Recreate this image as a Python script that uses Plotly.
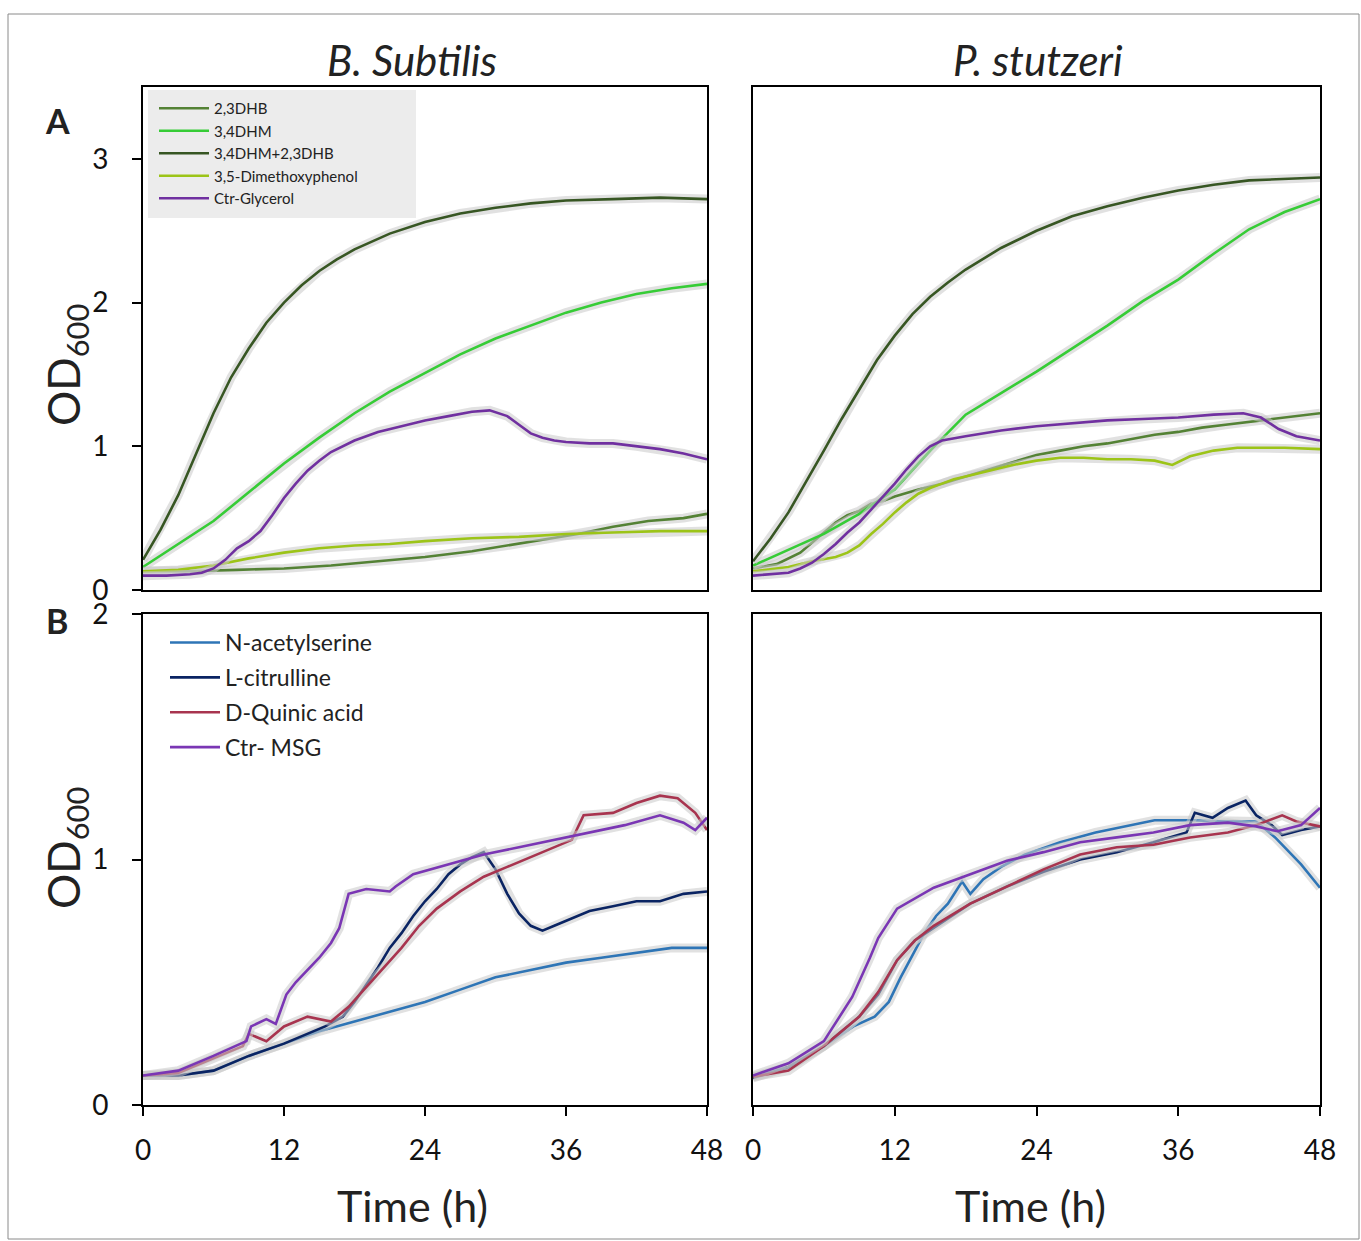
import plotly.graph_objects as go

W, H = 1361, 1241

# ---------------- Panel A : B. subtilis ----------------
t_dhb23_AL = [0, 4, 8, 12, 16, 20, 24, 28, 31, 34, 37, 40, 43, 46, 48]
v_dhb23_AL = [0.13, 0.13, 0.14, 0.15, 0.17, 0.20, 0.23, 0.27, 0.31, 0.35, 0.39, 0.44, 0.48, 0.50, 0.53]
t_dhm34_AL = [0, 3, 6, 9, 12, 15, 18, 21, 24, 27, 30, 33, 36, 39, 42, 45, 48]
v_dhm34_AL = [0.16, 0.32, 0.48, 0.68, 0.88, 1.06, 1.23, 1.38, 1.51, 1.64, 1.75, 1.84, 1.93, 2.00, 2.06, 2.10, 2.13]
t_combo_AL = [0, 1.5, 3, 4.5, 6, 7.5, 9, 10.5, 12, 13.5, 15, 16.5, 18, 21, 24, 27, 30, 33, 36, 40, 44, 48]
v_combo_AL = [0.21, 0.42, 0.66, 0.95, 1.23, 1.48, 1.68, 1.86, 2.00, 2.12, 2.22, 2.30, 2.37, 2.48, 2.56, 2.62, 2.66, 2.69, 2.71, 2.72, 2.73, 2.72]
t_dmp_AL = [0, 3, 6, 9, 12, 15, 18, 21, 24, 28, 32, 36, 40, 44, 48]
v_dmp_AL = [0.13, 0.14, 0.17, 0.22, 0.26, 0.29, 0.31, 0.32, 0.34, 0.36, 0.37, 0.39, 0.40, 0.41, 0.41]
t_gly_AL = [0, 2, 4, 5, 6, 7, 8, 9, 10, 11, 12, 13, 14, 15, 16, 18, 20, 22, 24, 26, 28, 29.5, 31, 32, 33, 34, 35, 36, 38, 40, 42, 44, 46, 48]
v_gly_AL = [0.10, 0.10, 0.11, 0.12, 0.15, 0.21, 0.29, 0.34, 0.41, 0.52, 0.64, 0.74, 0.83, 0.90, 0.96, 1.04, 1.10, 1.14, 1.18, 1.21, 1.24, 1.25, 1.21, 1.15, 1.09, 1.06, 1.04, 1.03, 1.02, 1.02, 1.00, 0.98, 0.95, 0.91]

# ---------------- Panel A : P. stutzeri ----------------
t_dhb23_AR = [0, 2, 4, 5, 6, 7, 8, 9, 10, 11, 12, 14, 16, 18, 20, 22, 24, 26, 28, 30, 32, 34, 36, 38, 40, 42, 44, 46, 48]
v_dhb23_AR = [0.15, 0.18, 0.26, 0.33, 0.40, 0.47, 0.52, 0.55, 0.60, 0.62, 0.65, 0.70, 0.74, 0.79, 0.84, 0.89, 0.94, 0.97, 1.00, 1.02, 1.05, 1.08, 1.10, 1.13, 1.15, 1.17, 1.19, 1.21, 1.23]
t_dhm34_AR = [0, 3, 6, 9, 12, 15, 18, 21, 24, 27, 30, 33, 36, 39, 42, 45, 48]
v_dhm34_AR = [0.17, 0.28, 0.39, 0.53, 0.70, 0.97, 1.22, 1.37, 1.52, 1.68, 1.84, 2.01, 2.16, 2.34, 2.51, 2.63, 2.72]
t_combo_AR = [0, 1.5, 3, 4.5, 6, 7.5, 9, 10.5, 12, 13.5, 15, 16.5, 18, 21, 24, 27, 30, 33, 36, 39, 42, 45, 48]
v_combo_AR = [0.20, 0.36, 0.54, 0.75, 0.97, 1.19, 1.40, 1.60, 1.77, 1.92, 2.04, 2.14, 2.23, 2.38, 2.50, 2.60, 2.67, 2.73, 2.78, 2.82, 2.85, 2.86, 2.87]
t_dmp_AR = [0, 3, 5, 7, 8, 9, 10, 11, 12, 13, 14, 15, 16, 17, 18, 20, 22, 24, 26, 28, 30, 32, 34, 35.5, 37, 39, 41, 43, 45, 48]
v_dmp_AR = [0.13, 0.16, 0.20, 0.23, 0.26, 0.31, 0.39, 0.46, 0.54, 0.61, 0.67, 0.71, 0.74, 0.77, 0.79, 0.83, 0.87, 0.90, 0.92, 0.92, 0.91, 0.91, 0.90, 0.87, 0.93, 0.97, 0.99, 0.99, 0.99, 0.98]
t_gly_AR = [0, 2, 3, 4, 5, 6, 7, 8, 9, 10, 11, 12, 13, 14, 15, 16, 18, 21, 24, 27, 30, 33, 36, 39, 41.5, 43, 44.5, 46, 48]
v_gly_AR = [0.10, 0.11, 0.12, 0.15, 0.19, 0.25, 0.32, 0.40, 0.47, 0.56, 0.65, 0.74, 0.84, 0.93, 1.00, 1.04, 1.07, 1.11, 1.14, 1.16, 1.18, 1.19, 1.20, 1.22, 1.23, 1.20, 1.12, 1.07, 1.04]

# ---------------- Panel B : B. subtilis ----------------
t_nas_BL = [0, 3, 6, 9, 12, 15, 18, 21, 24, 27, 30, 33, 36, 39, 42, 45, 48]
v_nas_BL = [0.12, 0.12, 0.14, 0.20, 0.25, 0.30, 0.34, 0.38, 0.42, 0.47, 0.52, 0.55, 0.58, 0.60, 0.62, 0.64, 0.64]
t_cit_BL = [0, 3, 6, 9, 12, 14, 15.5, 17, 18, 19, 20, 21, 22, 23, 24, 25, 26, 27, 28, 29, 30, 31, 32, 33, 34, 35, 36, 38, 40, 42, 44, 46, 48]
v_cit_BL = [0.12, 0.12, 0.14, 0.20, 0.25, 0.29, 0.32, 0.36, 0.42, 0.49, 0.56, 0.64, 0.70, 0.77, 0.83, 0.88, 0.94, 0.98, 1.01, 1.03, 0.96, 0.86, 0.78, 0.73, 0.71, 0.73, 0.75, 0.79, 0.81, 0.83, 0.83, 0.86, 0.87]
t_qui_BL = [0, 3, 6, 8.5, 9, 10.5, 12, 14, 16, 17.5, 19, 20.5, 22, 23.5, 25, 27, 29, 31, 33, 35, 36.5, 37.5, 40, 42, 44, 45.5, 47, 48]
v_qui_BL = [0.12, 0.13, 0.19, 0.24, 0.29, 0.26, 0.32, 0.36, 0.34, 0.40, 0.48, 0.56, 0.64, 0.73, 0.80, 0.87, 0.93, 0.97, 1.01, 1.05, 1.08, 1.18, 1.19, 1.23, 1.26, 1.25, 1.19, 1.12]
t_msg_BL = [0, 3, 6, 8.8, 9.2, 10.5, 11.3, 12.2, 13, 14, 15, 16, 16.7, 17.5, 19, 21, 21.5, 23, 26, 29, 32, 35, 38, 41, 44, 46, 47, 48]
v_msg_BL = [0.12, 0.14, 0.20, 0.26, 0.32, 0.35, 0.33, 0.45, 0.50, 0.55, 0.60, 0.66, 0.72, 0.86, 0.88, 0.87, 0.89, 0.94, 0.98, 1.02, 1.05, 1.08, 1.11, 1.14, 1.18, 1.15, 1.12, 1.17]

# ---------------- Panel B : P. stutzeri ----------------
t_nas_BR = [0, 3, 6, 8.5, 10.3, 11.5, 12.5, 13.5, 14.5, 15.5, 16.5, 17.7, 18.4, 19.5, 21, 23, 26, 29, 32, 34, 37, 40, 42.6, 44.2, 46.4, 48]
v_nas_BR = [0.115, 0.155, 0.24, 0.32, 0.36, 0.42, 0.52, 0.61, 0.70, 0.77, 0.82, 0.91, 0.86, 0.92, 0.97, 1.02, 1.07, 1.11, 1.14, 1.16, 1.16, 1.155, 1.155, 1.09, 0.98, 0.885]
t_cit_BR = [0, 3, 6, 9, 10.6, 12.2, 13.7, 15.3, 18.4, 21.5, 24.6, 27.7, 30.8, 33.9, 36.7, 37.4, 38.9, 40.2, 41.7, 42.6, 43.9, 44.8, 46.4, 48]
v_cit_BR = [0.11, 0.155, 0.24, 0.36, 0.45, 0.59, 0.67, 0.72, 0.82, 0.89, 0.95, 1.00, 1.03, 1.07, 1.11, 1.19, 1.17, 1.21, 1.24, 1.18, 1.14, 1.10, 1.12, 1.135]
t_qui_BR = [0, 3, 6, 9, 10.6, 12.2, 13.7, 15.3, 18.4, 21.5, 24.6, 27.7, 30.8, 33.9, 37, 40.2, 42.6, 44.8, 46, 48]
v_qui_BR = [0.115, 0.14, 0.24, 0.36, 0.46, 0.59, 0.67, 0.73, 0.82, 0.89, 0.96, 1.02, 1.05, 1.06, 1.09, 1.11, 1.14, 1.18, 1.155, 1.135]
t_msg_BR = [0, 3, 6, 8.4, 9.9, 10.6, 12.2, 13.7, 15.3, 18.4, 21.5, 24.6, 27.7, 30.8, 33.9, 37, 40.2, 42.6, 44.4, 46.4, 48]
v_msg_BR = [0.12, 0.17, 0.26, 0.44, 0.60, 0.68, 0.80, 0.84, 0.885, 0.94, 0.995, 1.03, 1.07, 1.09, 1.11, 1.14, 1.15, 1.135, 1.115, 1.14, 1.21]

names_A = ["2,3DHB", "3,4DHM", "3,4DHM+2,3DHB", "3,5-Dimethoxyphenol", "Ctr-Glycerol"]
names_B = ["N-acetylserine", "L-citrulline", "D-Quinic acid", "Ctr- MSG"]
x_ticks = [0, 12, 24, 36, 48]
yA_ticks = [0, 1, 2, 3]
yB_ticks = [0, 1, 2]

col_A = ["#548235", "#36cc36", "#375623", "#9cc418", "#7030a0"]
col_B = ["#2e75b6", "#0a2463", "#a8344f", "#7a36b4"]

FONT = "Lato"
fig = go.Figure()

def add(t, v, name, color, xa, ya, legend, show):
    fig.add_trace(go.Scatter(x=t, y=v, mode="lines", xaxis=xa, yaxis=ya,
                             line=dict(color="rgba(200,200,200,0.55)", width=9),
                             showlegend=False, hoverinfo="skip"))
    fig.add_trace(go.Scatter(x=t, y=v, mode="lines", name=name, xaxis=xa, yaxis=ya,
                             line=dict(color=color, width=2.6), legend=legend,
                             legendgroup=name, showlegend=show))

AL = [(t_dhb23_AL, v_dhb23_AL), (t_dhm34_AL, v_dhm34_AL), (t_combo_AL, v_combo_AL),
      (t_dmp_AL, v_dmp_AL), (t_gly_AL, v_gly_AL)]
AR = [(t_dhb23_AR, v_dhb23_AR), (t_dhm34_AR, v_dhm34_AR), (t_combo_AR, v_combo_AR),
      (t_dmp_AR, v_dmp_AR), (t_gly_AR, v_gly_AR)]
BL = [(t_nas_BL, v_nas_BL), (t_cit_BL, v_cit_BL), (t_qui_BL, v_qui_BL), (t_msg_BL, v_msg_BL)]
BR = [(t_nas_BR, v_nas_BR), (t_cit_BR, v_cit_BR), (t_qui_BR, v_qui_BR), (t_msg_BR, v_msg_BR)]

for i, (t, v) in enumerate(AL):
    add(t, v, names_A[i], col_A[i], "x", "y", "legend", True)
for i, (t, v) in enumerate(AR):
    add(t, v, names_A[i], col_A[i], "x2", "y2", "legend", False)
for i, (t, v) in enumerate(BL):
    add(t, v, names_B[i], col_B[i], "x3", "y3", "legend2", True)
for i, (t, v) in enumerate(BR):
    add(t, v, names_B[i], col_B[i], "x4", "y4", "legend2", False)

def px_x(p):
    return p / W

def px_y(p):
    return 1 - p / H

dom_xL = [px_x(143), px_x(707)]
dom_xR = [px_x(753), px_x(1320)]
dom_yA = [px_y(590), px_y(87)]
dom_yB = [px_y(1105), px_y(614)]

base = dict(showline=True, linecolor="black", linewidth=2, mirror=True,
            showgrid=False, zeroline=False, range=[0, 48], automargin=False,
            tickfont=dict(family=FONT, size=28, color="#111"))

xa_top = dict(base, showticklabels=False, ticks="", tickvals=x_ticks)
xa_bot = dict(base, ticks="outside", ticklen=9, tickwidth=2, tickcolor="black",
              tickvals=x_ticks, ticklabelstandoff=10)
ya_A = dict(base, range=[0, 3.5], tickvals=yA_ticks, ticks="outside", ticklen=9,
            tickwidth=2, tickcolor="black", ticklabelstandoff=18)
ya_B = dict(base, range=[0, 2], tickvals=yB_ticks, ticks="outside", ticklen=9,
            tickwidth=2, tickcolor="black", ticklabelstandoff=18)

fig.update_layout(
    width=W, height=H, autosize=False,
    margin=dict(l=0, r=0, t=0, b=0, pad=0, autoexpand=False),
    paper_bgcolor="white", plot_bgcolor="white",
    font=dict(family=FONT, color="#222"),
    xaxis=dict(xa_top, domain=dom_xL, anchor="y"),
    yaxis=dict(ya_A, domain=dom_yA, anchor="x"),
    xaxis2=dict(xa_top, domain=dom_xR, anchor="y2"),
    yaxis2=dict(ya_A, domain=dom_yA, anchor="x2", showticklabels=False, ticks=""),
    xaxis3=dict(xa_bot, domain=dom_xL, anchor="y3"),
    yaxis3=dict(ya_B, domain=dom_yB, anchor="x3"),
    xaxis4=dict(xa_bot, domain=dom_xR, anchor="y4"),
    yaxis4=dict(ya_B, domain=dom_yB, anchor="x4", showticklabels=False, ticks=""),
    legend=dict(x=px_x(154), y=px_y(92), xanchor="left", yanchor="top",
                bgcolor="rgba(0,0,0,0)", font=dict(family=FONT, size=15, color="#222"),
                itemwidth=50, tracegroupgap=0),
    legend2=dict(x=px_x(165), y=px_y(621), xanchor="left", yanchor="top",
                 bgcolor="rgba(0,0,0,0)", font=dict(family=FONT, size=23, color="#222"),
                 itemwidth=50, tracegroupgap=2),
    showlegend=True,
)

shapes = [
    dict(type="rect", xref="paper", yref="paper", x0=px_x(148), x1=px_x(416),
         y0=px_y(218), y1=px_y(90), fillcolor="#ececec", line=dict(width=0), layer="below"),
    dict(type="rect", xref="paper", yref="paper", x0=px_x(8), x1=px_x(1359),
         y0=px_y(1239), y1=px_y(14), line=dict(color="#8a8a8a", width=1)),
]
fig.update_layout(shapes=shapes)

ann = [
    dict(text="<i>B. Subtilis</i>", x=px_x(412), y=px_y(60), size=42),
    dict(text="<i>P. stutzeri</i>", x=px_x(1038), y=px_y(60), size=42),
    dict(text="<b>A</b>", x=px_x(57), y=px_y(121), size=34),
    dict(text="<b>B</b>", x=px_x(57), y=px_y(620), size=34),
    dict(text="Time (h)", x=px_x(412), y=px_y(1205), size=43),
    dict(text="Time (h)", x=px_x(1030), y=px_y(1205), size=43),
]
annotations = []
for a in ann:
    annotations.append(dict(text=a["text"], x=a["x"], y=a["y"], xref="paper", yref="paper",
                            showarrow=False, xanchor="center", yanchor="middle",
                            font=dict(family=FONT, size=a["size"], color="#222")))
for yc in (365, 848):
    annotations.append(dict(text="OD<sub>600</sub>", x=px_x(66), y=px_y(yc), xref="paper",
                            yref="paper", showarrow=False, textangle=-90,
                            xanchor="center", yanchor="middle",
                            font=dict(family=FONT, size=44, color="#222")))
fig.update_layout(annotations=annotations)

fig.write_html("out.html", config={"displayModeBar": False},
               post_script="document.body.style.margin='0';")
